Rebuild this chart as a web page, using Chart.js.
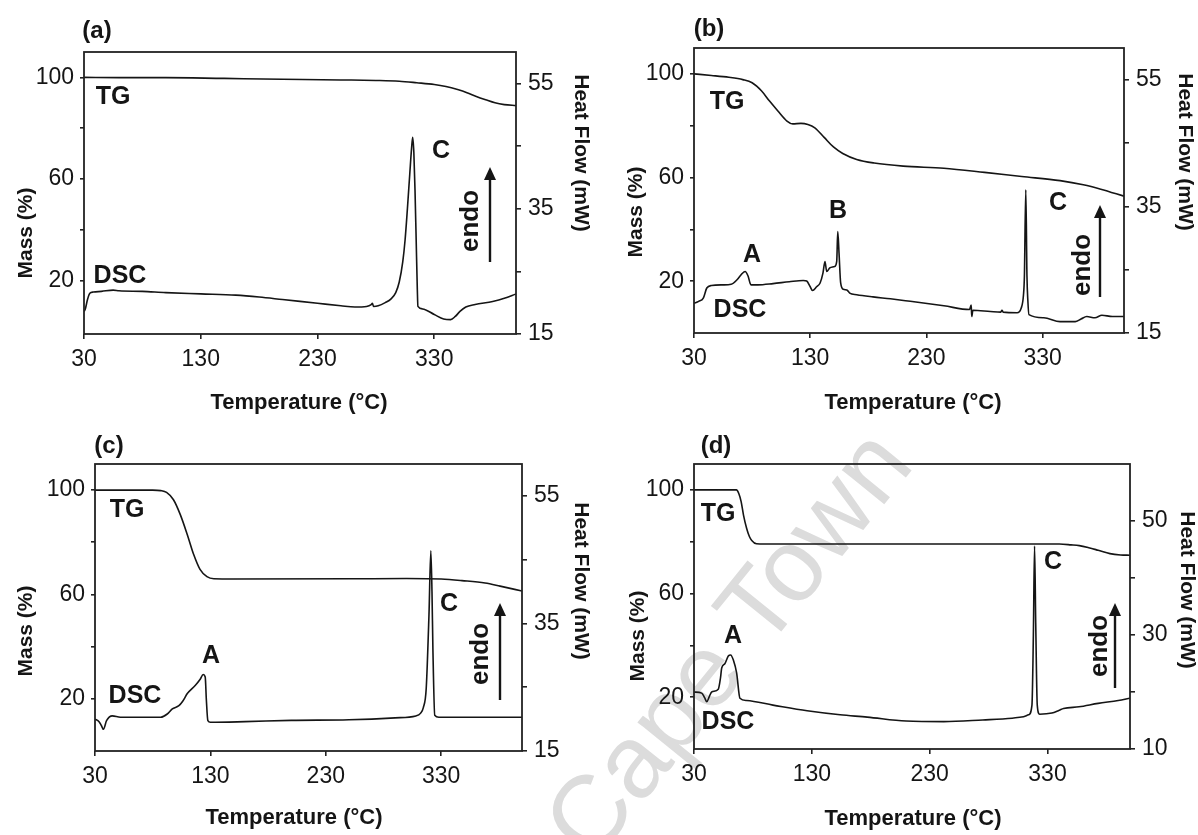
<!DOCTYPE html>
<html>
<head>
<meta charset="utf-8">
<title>TG / DSC curves</title>
<script src="https://cdn.jsdelivr.net/npm/chart.js@4.4.1/dist/chart.umd.min.js"></script>
<style>
  html, body { margin: 0; padding: 0; background: #fff; }
  body { width: 1198px; height: 835px; position: relative; overflow: hidden; }
  canvas { position: absolute; }
  #wm {
    position: absolute; left: 565px; top: 842px;
    font: 103px "Liberation Sans", Arial, sans-serif; color: #dcdcdc;
    white-space: nowrap; line-height: 1;
    transform-origin: 0 50%; transform: translateY(-50%) rotate(-51deg);
  }
</style>
</head>
<body>
<div id="wm">Cape Town</div>
<canvas id="panel-a" width="600" height="418" style="left:0;top:0"></canvas>
<canvas id="panel-b" width="598" height="418" style="left:600px;top:0"></canvas>
<canvas id="panel-c" width="600" height="417" style="left:0;top:418px"></canvas>
<canvas id="panel-d" width="598" height="417" style="left:600px;top:418px"></canvas>
<script>
// axis ticks (temperature in °C, mass in %, heat flow in mW)
const tempTicks = [30, 130, 230, 330];
const massTicks = [20, 40, 60, 80, 100];
const massLabels = [20, 60, 100];
const heatTicks = [15, 25, 35, 45, 55];
const heatLabels = [15, 35, 55];
const heatTicksD = [10, 20, 30, 40, 50];
const heatLabelsD = [10, 30, 50];

// (a)
const tgA = [[30,100],[60,99.9],[100,99.9],[150,99.6],[200,99.3],[250,99.0],[280,98.8],[300,98.5],[315,97.9],
  [330,97.2],[340,96.4],[350,95.2],[358,94.0],[366,92.5],[374,91.2],[382,90.0],[390,89.3],[400,88.9]];
const dscA = [[30,18.6],[31,18.9],[33,20.5],[35,21.5],[38,21.7],[45,21.8],[55,22.0],[60,21.9],[80,21.8],
  [100,21.6],[130,21.4],[160,21.2],[180,20.9],[200,20.5],[230,19.9],[250,19.5],[262,19.3],[272,19.4],
  [276,19.7],[277,19.9],[278,19.4],[282,19.5],[288,20.0],[293,20.6],[297,21.6],[300,23.3],[303,26.5],
  [305,30],[307,35],[309,40.5],[310.5,44.5],[311.5,46.4],[312.5,44],[313.5,38],[314.5,30],[315.5,22],
  [316,19.4],[320,19.0],[330,18.1],[338,17.4],[344,17.3],[348,17.8],[352,18.6],[357,19.3],[365,19.7],
  [380,20.2],[390,20.7],[400,21.4]];

// (b)
const tgB = [[30,100],[45,99.4],[60,98.7],[72,97.8],[80,96.6],[88,93.5],[95,89.5],[102,85.8],[110,81.8],
  [115,80.7],[122,80.9],[128,80.5],[134,79.2],[142,75.5],[150,71.8],[158,69.3],[170,67.0],[185,65.6],
  [210,64.4],[245,63.6],[280,62.0],[312,60.4],[345,58.8],[365,57.2],[380,55.5],[400,52.8]];
const dscB = [[30,19.7],[34,20.0],[38,20.5],[41,22.1],[45,22.5],[55,22.6],[62,22.7],[67,23.4],[71,24.3],
  [74,24.7],[76.5,24.0],[79,22.6],[85,22.6],[98,22.8],[112,23.1],[124,23.3],[127,23.2],[130,22.3],
  [132,21.7],[135.5,22.3],[138.5,22.9],[141,24.5],[142.7,26.3],[144.2,24.7],[147,25.3],[151,25.5],
  [152.8,26.3],[153.7,31.0],[154.8,27.6],[156.2,22.9],[158.5,21.9],[161.5,21.8],[164,21.3],[170,21.05],
  [184,20.7],[199,20.4],[212,20.1],[245,19.3],[267,18.7],[268.5,19.4],[269,17.6],[270,18.6],[285,18.4],
  [294,18.3],[295,18.6],[296,18.3],[308,18.2],[311.5,18.9],[313.5,21],[314.3,24],[315.5,37.6],[316.5,24],
  [317.3,20],[318.2,17.9],[331,17.4],[345,16.8],[358,16.8],[363,17.2],[368,17.6],[375,17.4],[381,17.8],
  [390,17.6],[400,17.6]];

// (c)
const tgC = [[30,100],[80,100],[87,99.8],[92,99.1],[98,96.3],[104,90.5],[110,82.9],[115.6,75.2],[121,69.6],
  [127,66.8],[133,66.0],[150,65.9],[250,66.0],[300,66.1],[330,65.9],[348,65.3],[368,64.4],[381,63.2],
  [400,61.3]];
const dscC = [[30,20.0],[33.5,19.6],[35.5,19.0],[37.3,18.4],[40,19.75],[45,20.5],[52,20.3],[70,20.3],
  [87,20.3],[92.6,20.8],[97,21.6],[102.7,22.1],[106,22.8],[110,24.0],[117,25.3],[121,26.2],[123.8,27.0],
  [125.5,26.6],[126.5,23],[127.8,19.75],[130,19.5],[160,19.6],[200,19.8],[250,19.9],[290,20.2],[308,20.5],
  [312,20.9],[314.5,21.8],[317,24.8],[319.4,36.4],[321,46.4],[322,40],[322.8,31],[324.4,20.6],[328,20.3],
  [350,20.3],[400,20.3]];

// (d)
const tgD = [[30,100],[66,100],[68,98.6],[70,95.5],[72,90.3],[74.7,85.1],[77,82],[79,80.5],[83,79.2],
  [90,79.1],[150,79.1],[250,79.1],[300,79.1],[340,79.1],[350,78.8],[357,78.5],[365,77.7],[373,76.7],
  [383,75.4],[392,74.9],[400,74.8]];
const dscD = [[30,20.0],[36.5,19.8],[39,19.0],[40.8,18.3],[43,19.2],[45,20.0],[50.6,20.5],[52.5,22.5],
  [53.5,24.2],[56.3,25.0],[59.1,26.3],[61.1,26.5],[63.4,25.6],[66.2,23.3],[69,18.9],[74.7,18.5],[97,17.7],
  [126,16.7],[154,16.0],[177,15.6],[210,14.9],[242,14.8],[275,15.1],[300,15.4],[308,15.6],[314,16.0],
  [316.8,17.7],[318,30],[319,45.6],[320,32],[321.3,17.7],[323.3,16.1],[333.7,16.3],[340,16.8],[343.6,17.1],
  [356.7,17.4],[373,18.0],[390,18.5],[400,18.9]];

const FONT = '"Liberation Sans", Arial, sans-serif';
const INK = '#151515';

// frame, captions, curve labels and the endo arrow (page coordinates)
const panelDecor = {
  id: 'panelDecor',
  afterDatasetsDraw(chart, args, o) {
    const { ctx, chartArea: a } = chart;
    ctx.save();
    ctx.strokeStyle = '#222';
    ctx.lineWidth = 1.8;
    ctx.strokeRect(a.left, a.top, a.right - a.left, a.bottom - a.top);

    ctx.fillStyle = INK;
    ctx.textAlign = 'center';
    ctx.textBaseline = 'middle';
    o.texts.forEach(([text, x, y, size, rot]) => {
      ctx.save();
      ctx.translate(x - o.ox, y - o.oy);
      if (rot) ctx.rotate(rot * Math.PI / 180);
      ctx.font = `bold ${size}px ${FONT}`;
      ctx.fillText(text, 0, 0);
      ctx.restore();
    });

    // endo arrow
    const [ax, yTop, yBot] = o.arrow;
    const x = ax - o.ox, t = yTop - o.oy, b = yBot - o.oy;
    ctx.strokeStyle = INK;
    ctx.lineWidth = 2.4;
    ctx.beginPath();
    ctx.moveTo(x, b);
    ctx.lineTo(x, t + 10);
    ctx.stroke();
    ctx.beginPath();
    ctx.moveTo(x, t);
    ctx.lineTo(x - 6, t + 13);
    ctx.lineTo(x + 6, t + 13);
    ctx.closePath();
    ctx.fill();
    ctx.restore();
  }
};

function labelsOf(ticks) {
  return (scale) => { scale.ticks = ticks.map(v => ({ value: v })); };
}

function makePanel(p) {
  const line = { borderColor: INK, borderWidth: 1.6, pointRadius: 0, cubicInterpolationMode: 'monotone', fill: false };
  const tickGrid = (len) => ({ display: true, drawOnChartArea: false, drawTicks: true, tickLength: len, color: '#222', lineWidth: 1.6 });
  return new Chart(document.getElementById('panel-' + p.key), {
    type: 'line',
    data: {
      datasets: [
        { label: 'TG', data: p.tg.map(([x, y]) => ({ x, y })), yAxisID: 'mass', ...line },
        { label: 'DSC', data: p.dsc.map(([x, y]) => ({ x, y })), yAxisID: 'heat', ...line },
      ],
    },
    options: {
      responsive: false,
      animation: false,
      devicePixelRatio: 1,
      layout: { padding: { top: p.top, left: 0, right: 0, bottom: 0 } },
      plugins: { legend: { display: false }, tooltip: { enabled: false }, panelDecor: p.decor },
      scales: {
        x: {
          type: 'linear', min: 30, max: 400,
          afterBuildTicks: labelsOf(tempTicks),
          afterFit: (s) => { s.height = p.bottomH; },
          ticks: { color: INK, font: { family: FONT, size: 23 }, padding: 7, maxRotation: 0, autoSkip: false },
          grid: tickGrid(5),
          border: { display: false },
        },
        mass: {
          type: 'linear', position: 'left', min: p.massMin, max: 110,
          afterBuildTicks: labelsOf(massTicks),
          afterFit: (s) => { s.width = p.leftW; },
          ticks: { color: INK, font: { family: FONT, size: 23 }, padding: 6, autoSkip: false,
                   callback: (v) => (massLabels.includes(v) ? v : '') },
          grid: tickGrid(4),
          border: { display: false },
        },
        heat: {
          type: 'linear', position: 'right', min: p.heatMin, max: 60,
          afterBuildTicks: labelsOf(p.heatTicks),
          afterFit: (s) => { s.width = p.rightW; },
          ticks: { color: INK, font: { family: FONT, size: 23 }, padding: 7, autoSkip: false,
                   callback: (v) => (p.heatLabels.includes(v) ? v : '') },
          grid: tickGrid(5),
          border: { display: false },
        },
      },
    },
    plugins: [panelDecor],
  });
}

makePanel({
  key: 'a', tg: tgA, dsc: dscA, massMin: -1, heatMin: 15, heatTicks, heatLabels,
  top: 52, bottomH: 84, leftW: 84, rightW: 84,
  decor: {
    ox: 0, oy: 0,
    texts: [['(a)', 97, 31, 24], ['TG', 113, 97, 25], ['DSC', 120, 276, 25], ['C', 441, 151, 25],
            ['Mass (%)', 26, 233, 21, -90], ['Heat Flow (mW)', 581, 153, 21, 90],
            ['Temperature (°C)', 299, 403, 22], ['endo', 471, 221, 26, -90]],
    arrow: [490, 167, 262],
  },
});

makePanel({
  key: 'b', tg: tgB, dsc: dscB, massMin: 0, heatMin: 15, heatTicks, heatLabels,
  top: 48, bottomH: 85, leftW: 94, rightW: 74,
  decor: {
    ox: 600, oy: 0,
    texts: [['(b)', 709, 29, 24], ['TG', 727, 102, 25], ['DSC', 740, 310, 25], ['A', 752, 255, 25],
            ['B', 838, 211, 25], ['C', 1058, 203, 25],
            ['Mass (%)', 636, 212, 21, -90], ['Heat Flow (mW)', 1185, 152, 21, 90],
            ['Temperature (°C)', 913, 403, 22], ['endo', 1083, 265, 26, -90]],
    arrow: [1100, 205, 297],
  },
});

makePanel({
  key: 'c', tg: tgC, dsc: dscC, massMin: 0, heatMin: 15, heatTicks, heatLabels,
  top: 46, bottomH: 84, leftW: 95, rightW: 78,
  decor: {
    ox: 0, oy: 418,
    texts: [['(c)', 109, 446, 24], ['TG', 127, 510, 25], ['DSC', 135, 696, 25], ['A', 211, 656, 25],
            ['C', 449, 604, 25],
            ['Mass (%)', 26, 631, 21, -90], ['Heat Flow (mW)', 581, 581, 21, 90],
            ['Temperature (°C)', 294, 818, 22], ['endo', 481, 654, 26, -90]],
    arrow: [500, 603, 700],
  },
});

makePanel({
  key: 'd', tg: tgD, dsc: dscD, massMin: 0, heatMin: 10, heatTicks: heatTicksD, heatLabels: heatLabelsD,
  top: 46, bottomH: 86, leftW: 94, rightW: 68,
  decor: {
    ox: 600, oy: 418,
    texts: [['(d)', 716, 446, 24], ['TG', 718, 514, 25], ['A', 733, 636, 25], ['DSC', 728, 722, 25],
            ['C', 1053, 562, 25],
            ['Mass (%)', 638, 636, 21, -90], ['Heat Flow (mW)', 1187, 590, 21, 90],
            ['Temperature (°C)', 913, 819, 22], ['endo', 1100, 646, 26, -90]],
    arrow: [1115, 603, 688],
  },
});
</script>
</body>
</html>
